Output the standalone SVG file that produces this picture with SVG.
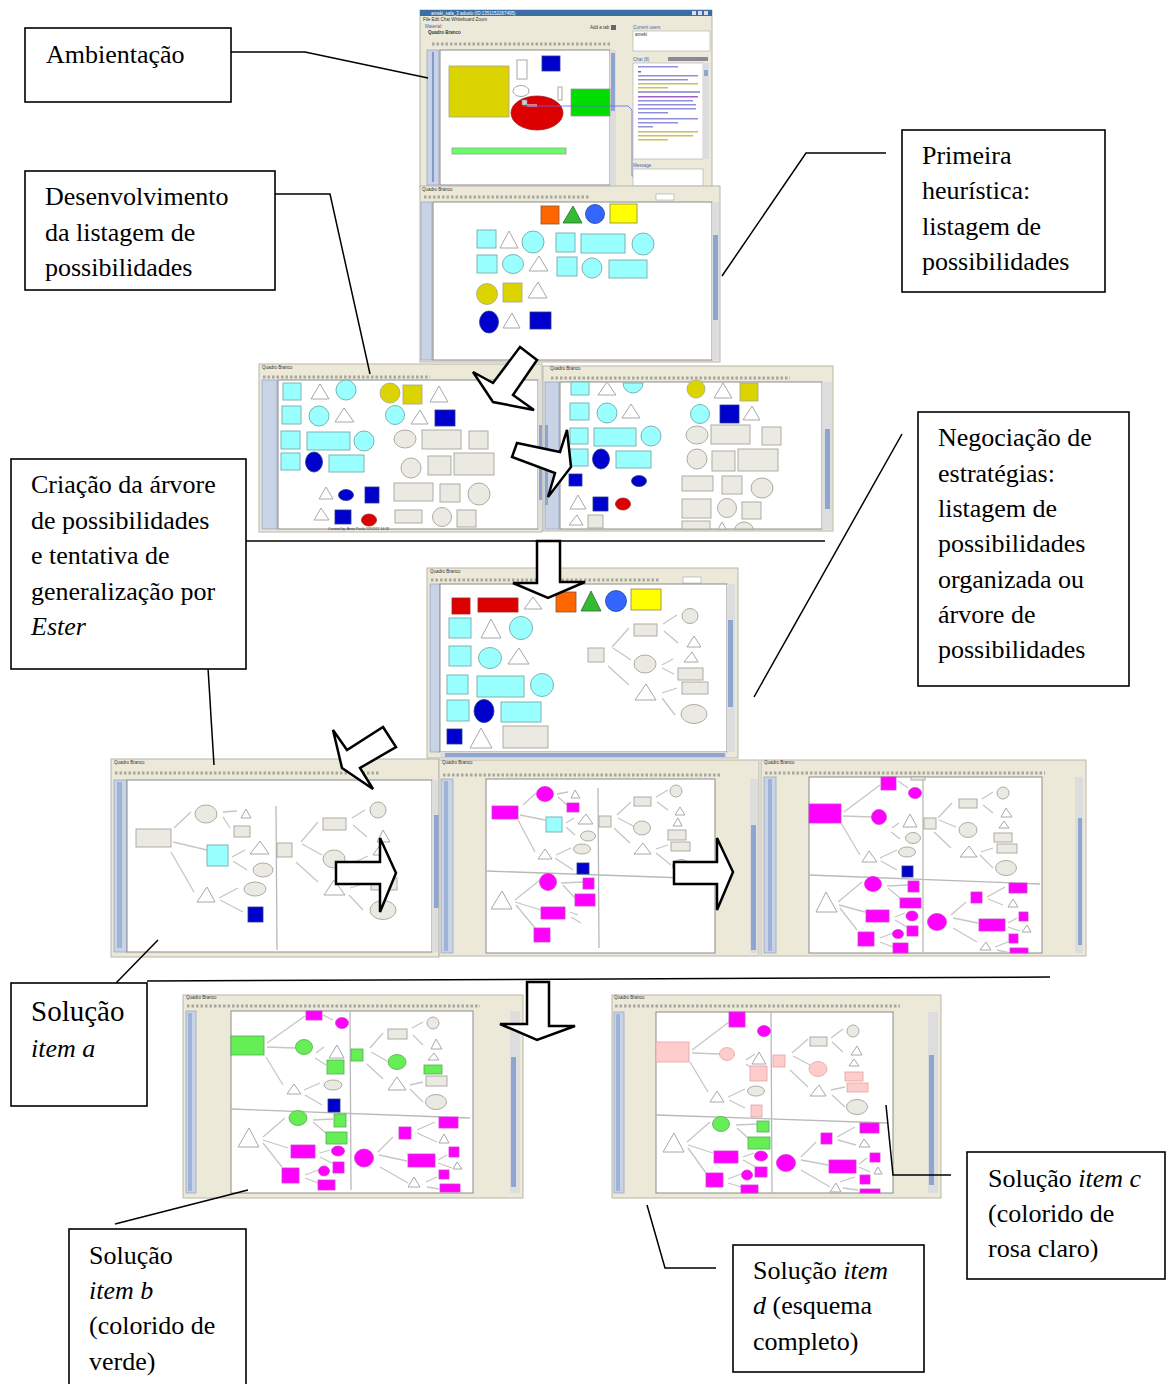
<svg xmlns="http://www.w3.org/2000/svg" width="1168" height="1384" viewBox="0 0 1168 1384">
<style>
.win{fill:#ece9d8;stroke:#b8b6aa;stroke-width:1}
.cv{fill:#fff;stroke:#8a8a8a;stroke-width:1}
.ru{fill:#c9d3e6;stroke:#9aa8c4;stroke-width:0.8}
.th{fill:#8ea6cf}
.tb{stroke:#a8a79c;stroke-width:3;stroke-dasharray:2.5 2;fill:none}
.cy{fill:#99ffff;stroke:#7db3b3;stroke-width:1}
.gy{fill:#ebeae2;stroke:#adaca4;stroke-width:1}
.tr{fill:#fff;stroke:#a8a8a8;stroke-width:1}
.bl{fill:#0000cc;stroke:#2a3a8a;stroke-width:0.8}
.yl{fill:#dcd400;stroke:#a8a48a;stroke-width:0.8}
.mg{fill:#ff00ff;stroke:#d040d0;stroke-width:0.8}
.gn{fill:#66ee55;stroke:#55aa55;stroke-width:0.8}
.pk{fill:#ffcccc;stroke:#e0a4a4;stroke-width:0.8}
.rd{fill:#dd0000;stroke:#a02020;stroke-width:0.8}
.ln{stroke:#c6c6c6;stroke-width:1.3;fill:none}
.dv{stroke:#b9b9b9;stroke-width:1.3;fill:none}
.s{font-family:"Liberation Sans",Arial,sans-serif;font-size:4.5px;fill:#333}
.box{fill:#fff;stroke:#000;stroke-width:1.6}
.co{stroke:#000;stroke-width:1.5;fill:none}
.arr{fill:#fff;stroke:#000;stroke-width:2.5;stroke-linejoin:miter}
.t{font-family:"Liberation Serif","Times New Roman",serif;font-size:26px;fill:#000}
.i{font-style:italic}
</style>

<!-- S1 Ambientacao screenshot -->
<g id="shot1">
<rect class="win" x="420" y="10" width="292" height="178"/>
<rect x="420" y="10" width="292" height="6" fill="#3a6ea5"/>
<text class="s" x="431" y="15" style="fill:#fff">ameki_sala_3 aduslo (ID:1351152267495)</text>
<rect x="692" y="11" width="4" height="4" fill="#dde"/><rect x="698" y="11" width="4" height="4" fill="#dde"/><rect x="704" y="11" width="4" height="4" fill="#dde"/>
<text class="s" x="423" y="21">File  Edit  Chat  Whiteboard Zoom</text>
<text class="s" x="425" y="28" style="fill:#4466aa">Material:</text>
<text class="s" x="590" y="29">Add a tab</text>
<rect x="611" y="25" width="5" height="5" fill="#666"/>
<text class="s" x="428" y="34" style="font-weight:bold">Quadro Branco</text>
<line class="tb" x1="432" y1="44" x2="612" y2="44"/>
<rect class="ru" x="427" y="50" width="12" height="135"/>
<line x1="433" y1="52" x2="433" y2="182" stroke="#6a86c0" stroke-width="1.5"/>
<rect class="cv" x="440" y="50" width="170" height="135"/>
<rect x="610" y="50" width="6" height="135" fill="#ddd"/>
<rect class="th" x="611" y="53" width="4" height="58"/>
<rect class="yl" x="449" y="66" width="60" height="51"/>
<rect class="tr" x="517" y="60" width="10" height="19"/>
<rect class="bl" x="542" y="56" width="18" height="15"/>
<ellipse class="tr" cx="521" cy="91" rx="8" ry="5.5"/>
<rect class="tr" x="558" y="87" width="4" height="13"/>
<ellipse class="rd" cx="537" cy="113" rx="26" ry="17"/>
<rect x="571" y="89" width="39" height="27" fill="#00dd00" stroke="#999" stroke-width="0.8"/>
<rect x="452" y="148" width="114" height="6" fill="#66ff66" stroke="#999" stroke-width="0.8"/>
<rect x="522" y="100" width="5" height="5" fill="#ccc" stroke="#888" stroke-width="0.5"/>
<rect x="527" y="104" width="10" height="3" fill="#e08080"/>
<path d="M523,106 L628,106 L632,110 L632,176 L640,176" stroke="#6666ee" stroke-width="0.8" fill="none"/>
<text class="s" x="633" y="29" style="fill:#4466aa">Current users</text>
<rect x="633" y="31" width="77" height="20" fill="#fff" stroke="#aaa" stroke-width="0.6"/>
<text class="s" x="635" y="35.5">ameki</text>
<text class="s" x="633" y="61" style="fill:#4466aa">Chat (8)</text>
<rect x="668" y="57" width="40" height="4" fill="#889"/>
<rect x="633" y="63" width="70" height="96" fill="#fff" stroke="#aaa" stroke-width="0.6"/>
<rect x="703" y="63" width="6" height="96" fill="#ddd"/><rect class="th" x="704" y="70" width="4" height="6"/>
<g fill="#9090d8">
<rect x="638" y="66" width="40" height="1.5"/><rect x="638" y="71" width="3" height="1.5" fill="#a040c0"/>
<rect x="638" y="75" width="60" height="1.5"/><rect x="638" y="79" width="50" height="1.5"/>
<rect x="638" y="83" width="60" height="1.5" fill="#c8c050"/><rect x="638" y="87" width="30" height="1.5" fill="#c8c050"/>
<rect x="638" y="91" width="62" height="2" fill="#a0a0e0"/>
<rect x="638" y="96" width="60" height="1.5" fill="#a060c0"/><rect x="638" y="100" width="55" height="1.5"/><rect x="638" y="104" width="58" height="1.5"/><rect x="638" y="108" width="58" height="1.5"/><rect x="638" y="112" width="30" height="1.5"/>
<rect x="638" y="118" width="60" height="1.5"/><rect x="638" y="122" width="40" height="1.5"/>
<rect x="638" y="126" width="15" height="1.5"/>
<rect x="638" y="131" width="60" height="1.5" fill="#c8c050"/><rect x="638" y="135" width="55" height="1.5" fill="#c8c050"/><rect x="638" y="139" width="30" height="1.5" fill="#c8c050"/>
</g>
<text class="s" x="633" y="167" style="fill:#4466aa">Message</text>
<rect x="633" y="169" width="70" height="17" fill="#fff" stroke="#aaa" stroke-width="0.6"/>
</g>

<!-- S2 -->
<g id="shot2">
<rect class="win" x="420" y="186" width="300" height="176"/>
<text class="s" x="422" y="191">Quadro Branco</text>
<line class="tb" x1="424" y1="197" x2="590" y2="197"/>
<rect x="656" y="194" width="18" height="6" fill="#fff" stroke="#999" stroke-width="0.5"/>
<rect class="ru" x="421" y="202" width="11" height="158"/>
<rect class="cv" x="433" y="202" width="279" height="158"/>
<rect x="712" y="202" width="7" height="158" fill="#ddd"/>
<rect class="th" x="713" y="235" width="5" height="85"/>
<rect x="541" y="206" width="18" height="18" fill="#ff6600" stroke="#885533" stroke-width="0.8"/>
<polygon points="563,223 582,223 573,206" fill="#33bb33" stroke="#336633" stroke-width="0.8"/>
<circle cx="595" cy="214" r="9.5" fill="#3366ff" stroke="#224499" stroke-width="0.8"/>
<rect x="610" y="204" width="27" height="19" fill="#ffff00" stroke="#888844" stroke-width="0.8"/>
<rect class="cy" x="477" y="230" width="19" height="18"/>
<polygon class="tr" points="500,248 518,248 509,231"/>
<circle class="cy" cx="533" cy="242" r="11"/>
<rect class="cy" x="556" y="233" width="19" height="19"/>
<rect class="cy" x="581" y="234" width="44" height="19"/>
<circle class="cy" cx="643" cy="244" r="11"/>
<rect class="cy" x="477" y="255" width="20" height="18"/>
<ellipse class="cy" cx="513" cy="264" rx="10.5" ry="9.5"/>
<polygon class="tr" points="529,271 548,271 539,256"/>
<rect class="cy" x="557" y="257" width="20" height="19"/>
<circle class="cy" cx="592" cy="268" r="10"/>
<rect class="cy" x="609" y="260" width="38" height="18"/>
<circle class="yl" cx="487" cy="294" r="10.5"/>
<rect class="yl" x="503" y="283" width="19" height="19"/>
<polygon class="tr" points="528,298 547,298 538,282"/>
<ellipse class="bl" cx="489" cy="322" rx="9.5" ry="11"/>
<polygon class="tr" points="503,328 520,328 512,313"/>
<rect class="bl" x="530" y="312" width="21" height="17"/>
</g>

<!-- S3 -->
<g id="shot3">
<rect class="win" x="259" y="364" width="283" height="168"/>
<text class="s" x="262" y="369">Quadro Branco</text>
<line class="tb" x1="263" y1="377" x2="430" y2="377"/>
<rect class="ru" x="262" y="380" width="15" height="149"/>
<rect class="cv" x="278" y="380" width="260" height="149"/>
<rect x="538" y="380" width="4" height="150" fill="#ddd"/>
<rect class="th" x="539" y="425" width="3" height="75"/>
<rect class="cy" x="283" y="383" width="18" height="17"/>
<polygon class="tr" points="311,399 329,399 320,384"/>
<circle class="cy" cx="346" cy="390" r="10"/>
<circle class="yl" cx="390" cy="393" r="10"/>
<rect class="yl" x="403" y="385" width="19" height="19"/>
<polygon class="tr" points="430,402 448,402 439,386"/>
<rect class="cy" x="282" y="406" width="19" height="18"/>
<circle class="cy" cx="319" cy="416" r="10"/>
<polygon class="tr" points="335,422 354,422 344,408"/>
<circle class="cy" cx="395" cy="415" r="9.5"/>
<polygon class="tr" points="411,424 428,424 420,410"/>
<rect class="bl" x="435" y="410" width="20" height="16"/>
<rect class="cy" x="281" y="431" width="19" height="18"/>
<rect class="cy" x="307" y="432" width="43" height="18"/>
<circle class="cy" cx="364" cy="441" r="10"/>
<ellipse class="gy" cx="405" cy="439" rx="11" ry="9"/>
<rect class="gy" x="422" y="430" width="39" height="19"/>
<rect class="gy" x="469" y="431" width="19" height="18"/>
<rect class="cy" x="281" y="453" width="19" height="17"/>
<ellipse class="bl" cx="314" cy="462" rx="8.5" ry="10"/>
<rect class="cy" x="329" y="455" width="35" height="17"/>
<circle class="gy" cx="411" cy="468" r="10"/>
<rect class="gy" x="428" y="456" width="23" height="19"/>
<rect class="gy" x="454" y="453" width="40" height="22"/>
<polygon class="tr" points="319,499 333,499 326,487"/>
<ellipse class="bl" cx="346" cy="495" rx="7.5" ry="5.5"/>
<rect class="bl" x="365" y="487" width="14" height="16"/>
<rect class="gy" x="394" y="483" width="39" height="18"/>
<rect class="gy" x="440" y="484" width="20" height="18"/>
<circle class="gy" cx="479" cy="494" r="11"/>
<polygon class="tr" points="314,520 329,520 321,508"/>
<rect class="bl" x="335" y="510" width="16" height="14"/>
<ellipse class="rd" cx="369" cy="520" rx="7.5" ry="6"/>
<rect class="gy" x="395" y="510" width="27" height="13"/>
<circle class="gy" cx="442" cy="517" r="9.5"/>
<rect class="gy" x="457" y="510" width="19" height="17"/>
<text class="s" x="328" y="530" style="font-size:3.5px">Created by: Anna Paula 12/12/12 14:31</text>
</g>

<!-- S4 -->
<g id="shot4">
<rect class="win" x="543" y="366" width="290" height="165"/>
<text class="s" x="550" y="370">Quadro Branco</text>
<line class="tb" x1="551" y1="378" x2="790" y2="378"/>
<rect class="ru" x="545" y="382" width="14" height="147"/>
<rect class="th" x="545" y="425" width="3" height="80"/>
<rect class="cv" x="560" y="382" width="262" height="147"/>
<rect x="822" y="382" width="10" height="147" fill="#ddd"/>
<rect class="th" x="825" y="429" width="5" height="80"/>
<rect class="cy" x="571" y="382" width="18" height="13"/>
<polygon class="tr" points="598,395 616,395 607,382"/>
<path class="cy" d="M623,383 A10,10 0 0 0 643,383 Z"/>
<circle class="yl" cx="696" cy="389" r="9"/>
<polygon class="tr" points="714,398 732,398 723,383"/>
<rect class="yl" x="740" y="383" width="18" height="18"/>
<rect class="cy" x="570" y="403" width="19" height="17"/>
<circle class="cy" cx="607" cy="413" r="10"/>
<polygon class="tr" points="622,418 640,418 631,404"/>
<circle class="cy" cx="700" cy="414" r="9.5"/>
<rect class="bl" x="720" y="405" width="19" height="18"/>
<polygon class="tr" points="743,420 760,420 752,406"/>
<rect class="cy" x="570" y="428" width="18" height="16"/>
<rect class="cy" x="594" y="428" width="42" height="18"/>
<circle class="cy" cx="651" cy="436" r="10"/>
<ellipse class="gy" cx="697" cy="435" rx="11" ry="9"/>
<rect class="gy" x="711" y="425" width="39" height="19"/>
<rect class="gy" x="762" y="427" width="19" height="18"/>
<rect class="cy" x="569" y="449" width="19" height="17"/>
<ellipse class="bl" cx="601" cy="459" rx="8.5" ry="10"/>
<rect class="cy" x="616" y="451" width="35" height="17"/>
<circle class="gy" cx="697" cy="459" r="10"/>
<rect class="gy" x="712" y="451" width="23" height="20"/>
<rect class="gy" x="738" y="449" width="40" height="22"/>
<rect class="bl" x="569" y="474" width="13" height="12"/>
<ellipse class="bl" cx="639" cy="481" rx="7.5" ry="5.5"/>
<rect class="gy" x="682" y="476" width="31" height="15"/>
<rect class="gy" x="722" y="476" width="20" height="18"/>
<ellipse class="gy" cx="762" cy="488" rx="11" ry="10"/>
<polygon class="tr" points="570,509 586,509 578,495"/>
<rect class="bl" x="593" y="497" width="15" height="14"/>
<ellipse class="rd" cx="623" cy="504" rx="7.5" ry="6"/>
<rect class="gy" x="682" y="499" width="29" height="19"/>
<circle class="gy" cx="727" cy="508" r="9.5"/>
<rect class="gy" x="742" y="502" width="19" height="17"/>
<polygon class="tr" points="569,525 583,525 577,515"/>
<rect class="gy" x="588" y="515" width="15" height="13"/>
<rect class="gy" x="682" y="521" width="28" height="8"/>
<polygon class="tr" points="718,529 726,529 722,522"/>
<path class="gy" d="M735,529 A9,7 0 0 1 753,529 Z"/>
</g>

<!-- S5 -->
<g id="shot5">
<rect class="win" x="427" y="568" width="311" height="190"/>
<text class="s" x="430" y="573">Quadro Branco</text>
<line class="tb" x1="431" y1="580" x2="660" y2="580"/>
<rect x="683" y="577" width="18" height="6" fill="#fff" stroke="#999" stroke-width="0.5"/>
<rect class="ru" x="430" y="584" width="10" height="168"/>
<rect class="cv" x="440" y="584" width="287" height="168"/>
<rect x="727" y="584" width="8" height="168" fill="#ddd"/>
<rect class="th" x="728" y="620" width="5" height="87"/>
<rect x="440" y="752" width="287" height="5" fill="#ddd"/>
<rect class="th" x="445" y="753" width="280" height="4"/>
<rect class="rd" x="452" y="598" width="18" height="16"/>
<rect class="rd" x="478" y="598" width="40" height="14"/>
<polygon class="tr" points="524,609 542,609 533,597"/>
<rect x="556" y="592" width="20" height="20" fill="#ff6600" stroke="#885533" stroke-width="0.8"/>
<polygon points="581,611 601,611 591,591" fill="#33bb33" stroke="#336633" stroke-width="0.8"/>
<circle cx="616" cy="601" r="10.5" fill="#3366ff" stroke="#224499" stroke-width="0.8"/>
<rect x="631" y="589" width="30" height="21" fill="#ffff00" stroke="#888844" stroke-width="0.8"/>
<rect class="cy" x="449" y="618" width="22" height="20"/>
<polygon class="tr" points="481,638 501,638 491,619"/>
<circle class="cy" cx="521" cy="628" r="11.5"/>
<rect class="cy" x="449" y="646" width="22" height="20"/>
<ellipse class="cy" cx="490" cy="658" rx="11.5" ry="10.5"/>
<polygon class="tr" points="508,664 529,664 519,648"/>
<rect class="cy" x="447" y="675" width="21" height="19"/>
<rect class="cy" x="477" y="676" width="47" height="21"/>
<circle class="cy" cx="542" cy="685" r="11.5"/>
<rect class="cy" x="447" y="700" width="22" height="21"/>
<ellipse class="bl" cx="484" cy="711" rx="10" ry="11.5"/>
<rect class="cy" x="501" y="702" width="40" height="20"/>
<rect class="bl" x="447" y="729" width="15" height="15"/>
<polygon class="tr" points="470,748 492,748 481,728"/>
<rect class="gy" x="503" y="726" width="45" height="22"/>
<path class="ln" d="M612,647 L629,628 M613,648 L631,660 M608,666 L629,685 M663,624 L677,615 M664,631 L678,643 M662,665 L673,659 M662,668 L674,674 M662,693 L677,688 M662,698 L675,715"/>
<rect class="gy" x="588" y="648" width="16" height="14"/>
<rect class="gy" x="634" y="624" width="23" height="12"/>
<ellipse class="gy" cx="645" cy="664" rx="11" ry="9"/>
<polygon class="tr" points="635,700 656,700 646,684"/>
<ellipse class="gy" cx="690" cy="616" rx="8" ry="7.5"/>
<polygon class="tr" points="687,647 701,647 694,636"/>
<polygon class="tr" points="684,662 698,662 692,652"/>
<rect class="gy" x="678" y="668" width="25" height="12"/>
<rect class="gy" x="682" y="682" width="26" height="12"/>
<ellipse class="gy" cx="694" cy="714" rx="13" ry="9.5"/>
</g>

<!-- S6 -->
<g id="shot6">
<rect class="win" x="111" y="759" width="328" height="198"/>
<text class="s" x="114" y="764">Quadro Branco</text>
<line class="tb" x1="115" y1="773" x2="380" y2="773"/>
<rect class="ru" x="114" y="780" width="13" height="172"/>
<rect x="117" y="782" width="5" height="166" fill="#9fb3d9"/>
<rect class="cv" x="127" y="780" width="305" height="172"/>
<rect x="432" y="780" width="7" height="172" fill="#ddd"/>
<rect class="th" x="434" y="815" width="5" height="93"/>
<path class="ln" d="M174,828 L191,812 M173,842 L207,850 M171,852 L194,892 M223,812 L237,811 M223,817 L230,828 M232,857 L245,850 M233,861 L247,870 M219,898 L238,888 M220,900 L243,912 M301,842 L318,822 M302,844 L322,855 M296,862 L318,882 M352,818 L365,810 M353,825 L367,837 M350,888 L363,884 M349,895 L363,910 M355,862 L368,856 M355,866 L368,872"/>
<path class="dv" d="M276,806 L277,950"/>
<rect class="gy" x="136" y="829" width="35" height="18"/>
<ellipse class="gy" cx="206" cy="814" rx="11" ry="9"/>
<polygon class="tr" points="241,818 251,818 246,809"/>
<rect class="gy" x="234" y="826" width="16" height="11"/>
<rect class="cy" x="207" y="845" width="21" height="21"/>
<polygon class="tr" points="250,854 269,854 260,841"/>
<ellipse class="gy" cx="263" cy="870" rx="10" ry="7"/>
<polygon class="tr" points="197,902 215,902 207,887"/>
<ellipse class="gy" cx="255" cy="889" rx="11" ry="7"/>
<rect class="bl" x="248" y="907" width="15" height="15"/>
<rect class="gy" x="277" y="843" width="15" height="14"/>
<rect class="gy" x="323" y="818" width="23" height="12"/>
<ellipse class="gy" cx="334" cy="859" rx="11" ry="9"/>
<polygon class="tr" points="324,895 345,895 334,880"/>
<circle class="gy" cx="378" cy="810" r="8"/>
<polygon class="tr" points="377,842 390,842 383,830"/>
<polygon class="tr" points="373,855 387,855 380,845"/>
<rect class="gy" x="371" y="878" width="26" height="12"/>
<ellipse class="gy" cx="383" cy="910" rx="13" ry="9.5"/>
</g>

<!-- S7 -->
<g id="shot7">
<rect class="win" x="439" y="760" width="320" height="196"/>
<text class="s" x="442" y="764">Quadro Branco</text>
<line class="tb" x1="443" y1="775" x2="720" y2="775"/>
<rect class="ru" x="441" y="779" width="12" height="174"/>
<rect x="444" y="781" width="4" height="170" fill="#9fb3d9"/>
<rect class="cv" x="486" y="779" width="229" height="174"/>
<rect x="750" y="779" width="8" height="174" fill="#ddd"/>
<rect class="th" x="751" y="825" width="5" height="125"/>
<path class="ln" d="M523,805 L536,793 M557,794 L568,792 M558,797 L567,805 M520,815 L545,820 M518,820 L535,852 M566,823 L574,818 M566,827 L575,835 M556,855 L571,848 M555,858 L573,870 M515,900 L540,880 M515,902 L541,910 M516,905 L535,928 M561,883 L583,882 M563,885 L575,898 M570,912 L578,915 M571,917 L581,923 M617,815 L631,802 M618,818 L635,827 M614,828 L630,843 M656,797 L668,790 M657,802 L668,810 M656,849 L668,845 M656,853 L671,865"/>
<path class="dv" d="M598,788 L599,948 M486,871 L713,879"/>
<ellipse class="mg" cx="545" cy="794" rx="8.5" ry="7.5"/>
<polygon class="tr" points="571,798 580,798 575,790"/>
<rect class="mg" x="567" y="803" width="12" height="9"/>
<rect class="mg" x="492" y="806" width="26" height="13"/>
<rect class="cy" x="546" y="817" width="16" height="15"/>
<polygon class="tr" points="578,824 593,824 586,814"/>
<ellipse class="gy" cx="588" cy="836" rx="7.5" ry="5"/>
<polygon class="tr" points="538,859 552,859 545,849"/>
<ellipse class="gy" cx="582" cy="849" rx="8.5" ry="5"/>
<rect class="bl" x="577" y="863" width="12" height="11"/>
<polygon class="tr" points="491,909 512,909 502,891"/>
<circle class="mg" cx="548" cy="882" r="8.5"/>
<rect class="mg" x="583" y="878" width="11" height="11"/>
<rect class="mg" x="575" y="894" width="20" height="12"/>
<rect class="mg" x="541" y="907" width="24" height="12"/>
<rect class="mg" x="534" y="928" width="16" height="14"/>
<rect class="gy" x="599" y="816" width="12" height="11"/>
<rect class="gy" x="634" y="797" width="17" height="9"/>
<ellipse class="gy" cx="642" cy="828" rx="8.5" ry="7"/>
<polygon class="tr" points="634,854 651,854 643,843"/>
<circle class="gy" cx="676" cy="791" r="6"/>
<polygon class="tr" points="675,815 685,815 680,807"/>
<polygon class="tr" points="673,826 682,826 678,818"/>
<rect class="gy" x="668" y="830" width="18" height="10"/>
<rect class="gy" x="671" y="842" width="19" height="9"/>
<ellipse class="gy" cx="681" cy="866" rx="8.5" ry="6.5"/>
</g>

<!-- S8 -->
<g id="shot8">
<rect class="win" x="761" y="760" width="325" height="196"/>
<text class="s" x="764" y="764">Quadro Branco</text>
<line class="tb" x1="765" y1="773" x2="1045" y2="773"/>
<rect class="ru" x="764" y="777" width="12" height="176"/>
<rect x="768" y="779" width="4" height="172" fill="#9fb3d9"/>
<rect class="cv" x="809" y="777" width="233" height="176"/>
<rect x="1075" y="777" width="8" height="176" fill="#ddd"/>
<rect class="th" x="1078" y="818" width="4" height="127"/>
<path class="ln" d="M844,812 L880,785 M843,816 L872,817 M841,823 L860,855 M898,781 L908,788 M892,828 L899,823 M891,832 L900,839 M880,858 L897,850 M881,861 L897,870 M938,818 L952,803 M939,820 L956,827 M934,832 L951,848 M982,799 L993,792 M983,805 L993,813 M981,852 L993,848 M980,855 L993,868 M838,902 L862,882 M839,905 L865,912 M840,908 L857,930 M887,886 L908,885 M888,888 L900,898 M895,917 L905,913 M895,920 L907,927 M880,938 L893,933 M880,942 L893,947 M951,915 L966,902 M953,918 L978,923 M953,928 L977,942 M987,897 L1005,887 M988,899 L1003,905 M1008,923 L1017,918 M1008,927 L1020,931 M995,947 L1008,942 M997,950 L1010,953"/>
<path class="dv" d="M923,777 L923,952 M809,875 L1040,884"/>
<rect class="mg" x="881" y="777" width="15" height="13"/>
<rect class="gy" x="911" y="777" width="14" height="3"/>
<ellipse class="mg" cx="915" cy="793" rx="6.5" ry="5.5"/>
<rect class="mg" x="809" y="804" width="32" height="19"/>
<circle class="mg" cx="879" cy="817" r="7.5"/>
<polygon class="tr" points="903,827 917,827 910,814"/>
<ellipse class="gy" cx="913" cy="838" rx="7.5" ry="5.5"/>
<polygon class="tr" points="862,862 877,862 869,851"/>
<ellipse class="gy" cx="907" cy="852" rx="8.5" ry="5"/>
<rect class="bl" x="902" y="866" width="11" height="11"/>
<rect class="gy" x="924" y="818" width="12" height="11"/>
<rect class="gy" x="959" y="799" width="18" height="9"/>
<ellipse class="gy" cx="968" cy="830" rx="9" ry="7.5"/>
<polygon class="tr" points="960,857 977,857 969,846"/>
<circle class="gy" cx="1003" cy="793" r="6"/>
<polygon class="tr" points="1001,817 1012,817 1006,808"/>
<polygon class="tr" points="999,828 1009,828 1004,821"/>
<rect class="gy" x="994" y="833" width="18" height="9"/>
<rect class="gy" x="997" y="844" width="20" height="9"/>
<ellipse class="gy" cx="1006" cy="868" rx="10.5" ry="7.5"/>
<polygon class="tr" points="816,912 837,912 826,892"/>
<ellipse class="mg" cx="873" cy="884" rx="8.5" ry="7.5"/>
<rect class="mg" x="908" y="881" width="11" height="11"/>
<rect class="mg" x="900" y="898" width="21" height="10"/>
<rect class="mg" x="866" y="910" width="23" height="12"/>
<ellipse class="mg" cx="912" cy="916" rx="6" ry="5"/>
<rect class="mg" x="907" y="926" width="11" height="10"/>
<rect class="mg" x="858" y="932" width="16" height="14"/>
<ellipse class="mg" cx="898" cy="934" rx="5.5" ry="4.5"/>
<rect class="mg" x="893" y="943" width="15" height="10"/>
<ellipse class="mg" cx="937" cy="922" rx="9.5" ry="8.5"/>
<rect class="mg" x="971" y="892" width="11" height="11"/>
<rect class="mg" x="1009" y="883" width="18" height="10"/>
<polygon class="tr" points="1008,907 1018,907 1013,899"/>
<rect class="mg" x="979" y="919" width="26" height="12"/>
<rect class="mg" x="1019" y="912" width="9" height="9"/>
<polygon class="tr" points="1022,932 1031,932 1027,925"/>
<rect class="mg" x="1009" y="934" width="9" height="9"/>
<polygon class="tr" points="980,950 991,950 986,942"/>
<rect class="mg" x="1010" y="948" width="18" height="5"/>
</g>

<!-- S9 -->
<g id="shot9">
<rect class="win" x="183" y="995" width="340" height="203"/>
<text class="s" x="186" y="999">Quadro Branco</text>
<line class="tb" x1="187" y1="1006" x2="480" y2="1006"/>
<rect class="ru" x="186" y="1011" width="10" height="182"/>
<rect x="188" y="1013" width="4" height="178" fill="#9fb3d9"/>
<rect class="cv" x="231" y="1011" width="242" height="182"/>
<rect x="510" y="1011" width="10" height="182" fill="#ddd"/>
<rect class="th" x="511" y="1057" width="5" height="130"/>
<path class="ln" d="M267,1043 L305,1016 M267,1047 L295,1048 M266,1057 L283,1085 M323,1015 L333,1020 M316,1053 L324,1047 M315,1058 L326,1065 M304,1090 L320,1083 M305,1095 L322,1105 M370,1048 L383,1033 M371,1052 L387,1061 M367,1064 L383,1079 M412,1028 L423,1022 M413,1035 L423,1045 M410,1085 L423,1082 M410,1089 L423,1102 M263,1137 L285,1118 M263,1140 L288,1148 M263,1143 L282,1167 M313,1120 L333,1119 M313,1122 L327,1134 M320,1153 L330,1150 M320,1157 L332,1163 M305,1175 L318,1170 M305,1178 L318,1183 M378,1152 L393,1137 M379,1155 L407,1161 M380,1167 L408,1183 M417,1130 L435,1122 M417,1133 L437,1142 M438,1160 L447,1155 M438,1163 L452,1168 M426,1182 L437,1177 M427,1187 L439,1189"/>
<path class="dv" d="M350,1012 L351,1190 M231,1109 L470,1118"/>
<rect class="mg" x="306" y="1011" width="16" height="9"/>
<ellipse class="mg" cx="342" cy="1023" rx="6.5" ry="5.5"/>
<rect class="gn" x="231" y="1036" width="33" height="19"/>
<ellipse class="gn" cx="304" cy="1047" rx="8.5" ry="7.5"/>
<polygon class="tr" points="329,1058 344,1058 337,1045"/>
<rect class="gn" x="327" y="1060" width="17" height="14"/>
<polygon class="tr" points="287,1094 301,1094 294,1084"/>
<ellipse class="gy" cx="333" cy="1085" rx="9" ry="5"/>
<rect class="bl" x="328" y="1099" width="12" height="13"/>
<rect class="gn" x="351" y="1049" width="12" height="12"/>
<rect class="gy" x="388" y="1029" width="19" height="10"/>
<ellipse class="gn" cx="397" cy="1062" rx="9" ry="7.5"/>
<polygon class="tr" points="388,1090 406,1090 397,1077"/>
<circle class="gy" cx="433" cy="1023" r="6"/>
<polygon class="tr" points="431,1049 442,1049 436,1039"/>
<polygon class="tr" points="428,1060 439,1060 434,1053"/>
<rect class="gn" x="424" y="1065" width="18" height="9"/>
<rect class="gy" x="426" y="1076" width="21" height="10"/>
<ellipse class="gy" cx="436" cy="1102" rx="10.5" ry="7.5"/>
<polygon class="tr" points="238,1147 259,1147 249,1128"/>
<ellipse class="gn" cx="298" cy="1118" rx="9" ry="7.5"/>
<rect class="gn" x="334" y="1114" width="12" height="13"/>
<rect class="gn" x="326" y="1132" width="21" height="12"/>
<rect class="mg" x="291" y="1145" width="24" height="13"/>
<ellipse class="mg" cx="338" cy="1151" rx="6.5" ry="5"/>
<rect class="mg" x="333" y="1162" width="11" height="11"/>
<rect class="mg" x="282" y="1168" width="17" height="15"/>
<ellipse class="mg" cx="324" cy="1171" rx="5.5" ry="5"/>
<rect class="mg" x="318" y="1180" width="17" height="10"/>
<ellipse class="mg" cx="364" cy="1158" rx="9.5" ry="9"/>
<rect class="mg" x="399" y="1127" width="12" height="12"/>
<rect class="mg" x="439" y="1117" width="19" height="11"/>
<polygon class="tr" points="439,1143 449,1143 444,1134"/>
<rect class="mg" x="408" y="1154" width="27" height="13"/>
<rect class="mg" x="449" y="1147" width="10" height="10"/>
<polygon class="tr" points="453,1169 462,1169 457,1162"/>
<rect class="mg" x="439" y="1170" width="10" height="9"/>
<polygon class="tr" points="408,1187 420,1187 414,1177"/>
<rect class="mg" x="440" y="1184" width="20" height="8"/>
</g>

<!-- S10 -->
<g id="shot10">
<rect class="win" x="612" y="995" width="329" height="203"/>
<text class="s" x="614" y="999">Quadro Branco</text>
<line class="tb" x1="615" y1="1006" x2="900" y2="1006"/>
<rect class="ru" x="614" y="1012" width="10" height="181"/>
<rect x="616" y="1014" width="4" height="177" fill="#9fb3d9"/>
<rect class="cv" x="656" y="1012" width="237" height="181"/>
<rect x="928" y="1012" width="10" height="181" fill="#ddd"/>
<rect class="th" x="929" y="1055" width="5" height="130"/>
<path class="ln" d="M692,1050 L729,1022 M692,1053 L720,1054 M690,1062 L708,1092 M746,1060 L755,1054 M746,1064 L757,1072 M728,1097 L745,1089 M729,1100 L745,1108 M792,1053 L808,1039 M793,1056 L810,1065 M790,1070 L808,1087 M831,1038 L843,1029 M832,1042 L843,1052 M831,1090 L845,1087 M832,1095 L845,1107 M687,1142 L710,1122 M688,1145 L713,1153 M688,1148 L706,1173 M736,1125 L758,1124 M737,1128 L748,1138 M743,1157 L754,1153 M743,1160 L756,1167 M728,1179 L741,1174 M728,1183 L741,1187 M801,1157 L816,1142 M801,1160 L828,1165 M801,1170 L830,1187 M837,1137 L855,1127 M838,1140 L856,1145 M859,1164 L867,1158 M859,1167 L870,1172 M840,1182 L855,1177 M843,1188 L858,1190"/>
<path class="dv" d="M771,1012 L772,1193 M656,1115 L888,1123"/>
<rect class="mg" x="729" y="1012" width="16" height="15"/>
<ellipse class="mg" cx="764" cy="1031" rx="6.5" ry="5.5"/>
<rect class="pk" x="656" y="1042" width="33" height="20"/>
<ellipse class="pk" cx="727" cy="1054" rx="7.5" ry="6.5"/>
<polygon class="tr" points="752,1064 766,1064 759,1052"/>
<rect class="pk" x="750" y="1066" width="17" height="15"/>
<polygon class="tr" points="710,1102 724,1102 717,1091"/>
<ellipse class="gy" cx="756" cy="1091" rx="8.5" ry="5"/>
<rect class="pk" x="751" y="1105" width="11" height="12"/>
<rect class="pk" x="773" y="1055" width="12" height="12"/>
<rect class="gy" x="810" y="1037" width="17" height="9"/>
<ellipse class="pk" cx="818" cy="1069" rx="9" ry="7.5"/>
<polygon class="tr" points="810,1096 826,1096 819,1085"/>
<circle class="gy" cx="853" cy="1031" r="6"/>
<polygon class="tr" points="851,1055 862,1055 857,1046"/>
<polygon class="tr" points="849,1066 859,1066 854,1059"/>
<rect class="pk" x="845" y="1072" width="18" height="9"/>
<rect class="pk" x="847" y="1083" width="21" height="9"/>
<ellipse class="gy" cx="857" cy="1107" rx="10.5" ry="7.5"/>
<polygon class="tr" points="663,1152 684,1152 674,1133"/>
<ellipse class="gn" cx="721" cy="1124" rx="8.5" ry="7.5"/>
<rect class="gn" x="757" y="1121" width="12" height="11"/>
<rect class="gn" x="748" y="1137" width="22" height="12"/>
<rect class="mg" x="714" y="1151" width="24" height="12"/>
<ellipse class="mg" cx="761" cy="1156" rx="6.5" ry="5"/>
<rect class="mg" x="755" y="1167" width="12" height="10"/>
<rect class="mg" x="706" y="1173" width="17" height="14"/>
<ellipse class="mg" cx="747" cy="1175" rx="5.5" ry="5"/>
<rect class="mg" x="741" y="1185" width="17" height="8"/>
<ellipse class="mg" cx="786" cy="1163" rx="9.5" ry="8.5"/>
<rect class="mg" x="821" y="1133" width="11" height="11"/>
<rect class="mg" x="860" y="1123" width="19" height="10"/>
<polygon class="tr" points="859,1147 870,1147 864,1139"/>
<rect class="mg" x="829" y="1160" width="27" height="13"/>
<rect class="mg" x="870" y="1153" width="10" height="9"/>
<polygon class="tr" points="874,1174 882,1174 878,1167"/>
<rect class="mg" x="860" y="1175" width="10" height="9"/>
<polygon class="tr" points="830,1192 841,1192 836,1183"/>
<rect class="mg" x="860" y="1189" width="20" height="4"/>
</g>

<!-- block arrows -->
<g id="arrows">
<polygon class="arr" points="520,347 537,360 513,395 534,410 493,402 473,372 493,383"/>
<polygon class="arr" points="517,443 560,452 567,430 571,467 548,497 555,473 512,457"/>
<polygon class="arr" points="537,541 537,583 513,583 548,598 585,582 560,582 560,541"/>
<polygon class="arr" points="383,727 396,747 360,768 373,789 342,768 333,730 347,750"/>
<polygon class="arr" points="336,862 380,862 380,838 396,873 380,912 380,884 336,884"/>
<polygon class="arr" points="674,862 717,862 717,838 733,872 717,910 717,884 674,884"/>
<polygon class="arr" points="527,982 527,1024 500,1024 537,1040 575,1026 549,1026 549,982"/>
</g>

<!-- connectors -->
<g id="connectors">
<polyline class="co" points="231,52 305,52 428,78"/>
<polyline class="co" points="886,153 806,153 722,276"/>
<polyline class="co" points="275,194 330,194 370,374"/>
<polyline class="co" points="208,668 214,765"/>
<polyline class="co" points="902,434 754,697"/>
<polyline class="co" points="116,983 158,940"/>
<polyline class="co" points="115,1224 248,1190"/>
<polyline class="co" points="951,1175 893,1175 886,1105"/>
<polyline class="co" points="716,1268 665,1268 647,1205"/>
<line class="co" x1="245" y1="541" x2="825" y2="541"/>
<line class="co" x1="147" y1="981" x2="1050" y2="977"/>
</g>

<!-- callout boxes -->
<g id="ambientacao">
<rect class="box" x="25" y="28" width="206" height="74"/>
<text class="t" x="46" y="63">Ambientação</text>
</g>
<g id="primeira">
<rect class="box" x="902" y="130" width="203" height="162"/>
<text class="t" x="922" y="164">Primeira</text>
<text class="t" x="922" y="199">heurística:</text>
<text class="t" x="922" y="235">listagem de</text>
<text class="t" x="922" y="270">possibilidades</text>
</g>
<g id="desenvolvimento">
<rect class="box" x="25" y="171" width="250" height="119"/>
<text class="t" x="45" y="205">Desenvolvimento</text>
<text class="t" x="45" y="241">da listagem de</text>
<text class="t" x="45" y="276">possibilidades</text>
</g>
<g id="criacao">
<rect class="box" x="11" y="459" width="235" height="210"/>
<text class="t" x="31" y="493">Criação da árvore</text>
<text class="t" x="31" y="529">de possibilidades</text>
<text class="t" x="31" y="564">e tentativa de</text>
<text class="t" x="31" y="600">generalização por</text>
<text class="t i" x="31" y="635">Ester</text>
</g>
<g id="negociacao">
<rect class="box" x="918" y="412" width="211" height="274"/>
<text class="t" x="938" y="446">Negociação de</text>
<text class="t" x="938" y="482">estratégias:</text>
<text class="t" x="938" y="517">listagem de</text>
<text class="t" x="938" y="552">possibilidades</text>
<text class="t" x="938" y="588">organizada ou</text>
<text class="t" x="938" y="623">árvore de</text>
<text class="t" x="938" y="658">possibilidades</text>
</g>
<g id="solucao-a">
<rect class="box" x="11" y="983" width="136" height="123"/>
<text class="t" x="31" y="1021" style="font-size:29px">Solução</text>
<text class="t i" x="31" y="1057">item a</text>
</g>
<g id="solucao-b">
<rect class="box" x="69" y="1229" width="177" height="170"/>
<text class="t" x="89" y="1264">Solução</text>
<text class="t i" x="89" y="1299">item b</text>
<text class="t" x="89" y="1334">(colorido de</text>
<text class="t" x="89" y="1370">verde)</text>
</g>
<g id="solucao-c">
<rect class="box" x="967" y="1152" width="198" height="127"/>
<text class="t" x="988" y="1187">Solução <tspan class="i">item c</tspan></text>
<text class="t" x="988" y="1222">(colorido de</text>
<text class="t" x="988" y="1257">rosa claro)</text>
</g>
<g id="solucao-d">
<rect class="box" x="733" y="1245" width="191" height="127"/>
<text class="t" x="753" y="1279">Solução <tspan class="i">item</tspan></text>
<text class="t" x="753" y="1314"><tspan class="i">d</tspan> (esquema</text>
<text class="t" x="753" y="1350">completo)</text>
</g>
</svg>
